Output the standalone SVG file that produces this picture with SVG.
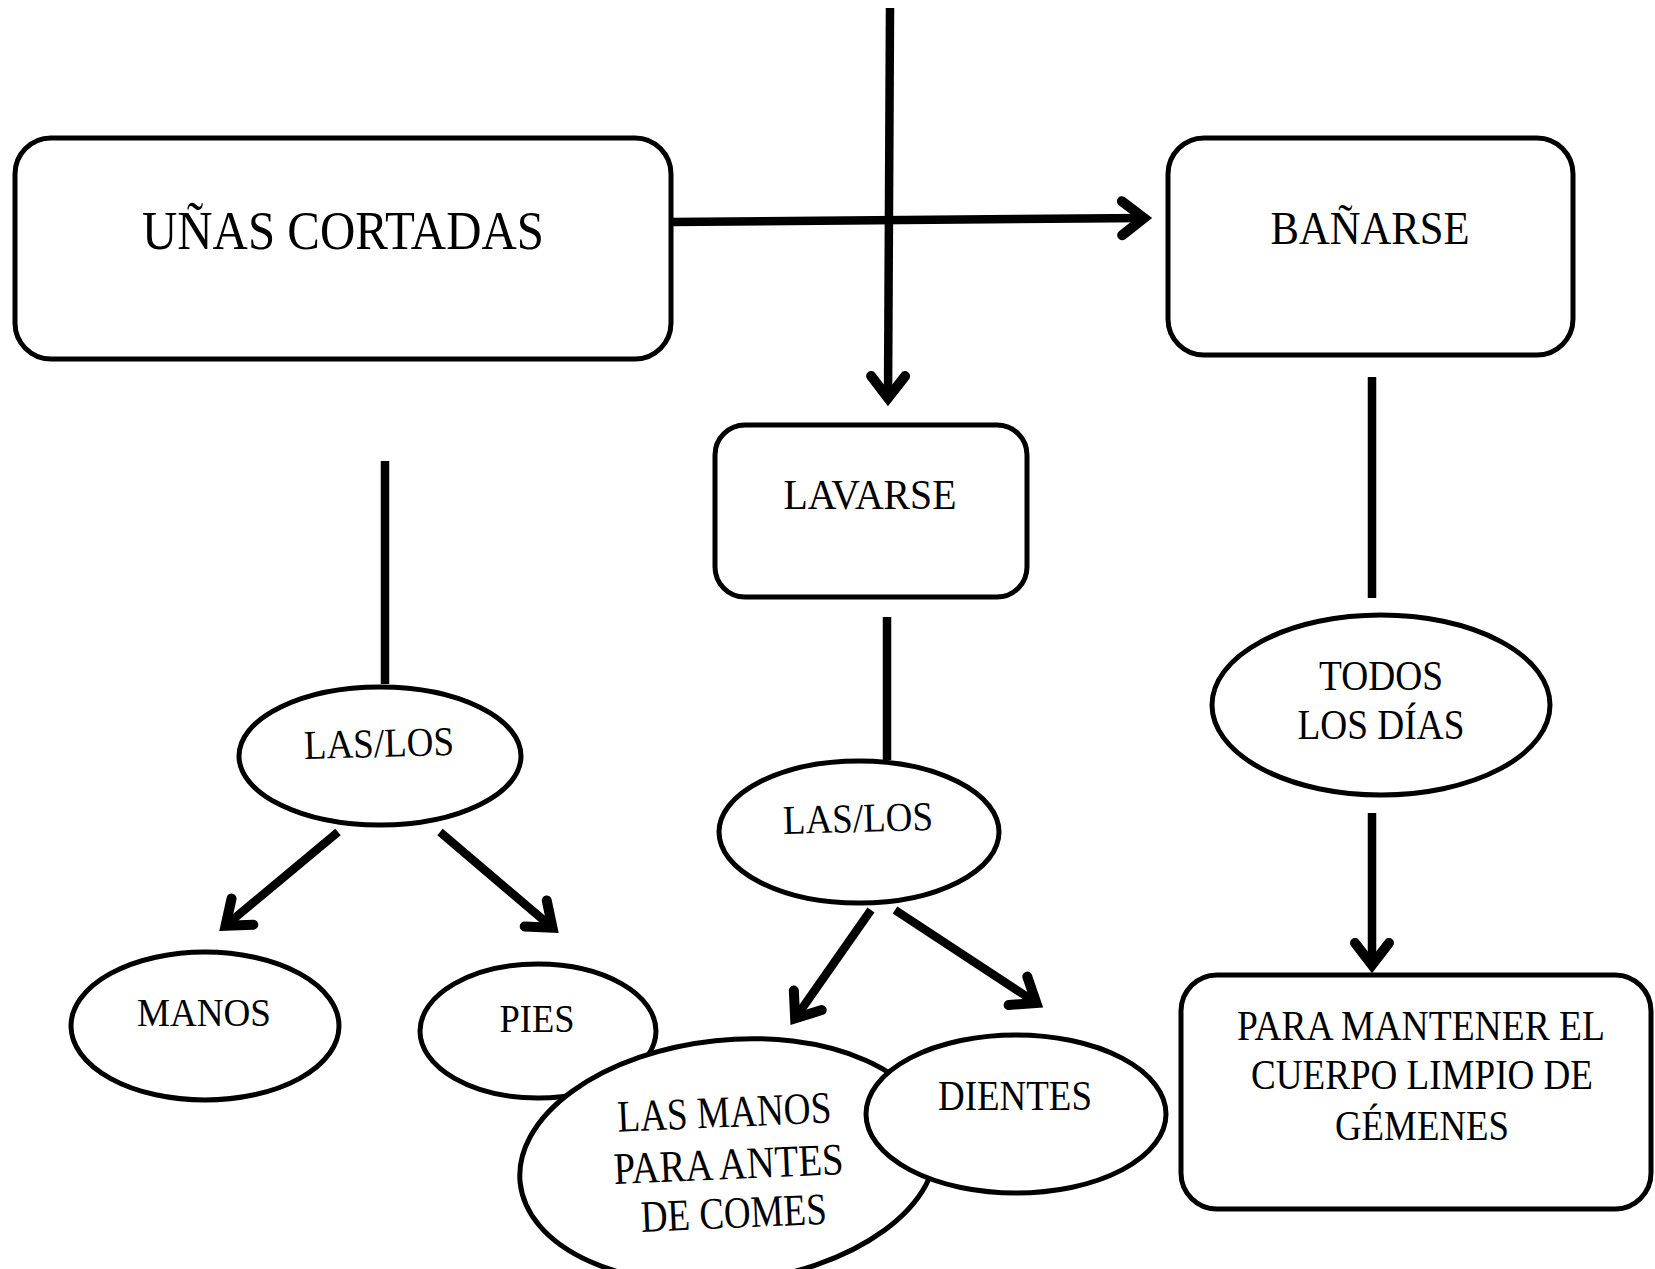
<svg xmlns="http://www.w3.org/2000/svg" width="1655" height="1269" viewBox="0 0 1655 1269">
<style>
.box{fill:#fff;stroke:#000;stroke-width:5}
.ell{fill:#fff;stroke:#000;stroke-width:5}
.ln{fill:none;stroke:#000;stroke-width:8.5}
.t{font-family:"Liberation Serif","Times New Roman",serif;fill:#000;text-anchor:middle}
</style>
<defs>
<marker id="arr" markerUnits="userSpaceOnUse" markerWidth="60" markerHeight="60" viewBox="-40 -30 60 60" refX="0" refY="0" orient="auto" overflow="visible">
<path d="M -24 -17 L -2 0 L -24 17" fill="none" stroke="#000" stroke-width="10" stroke-linecap="round" stroke-linejoin="miter"/>
</marker>
</defs>
<rect width="1655" height="1269" fill="#fff"/>
<g id="connectors">
<line class="ln" x1="890" y1="8" x2="888" y2="400" marker-end="url(#arr)"/>
<line class="ln" x1="671" y1="222" x2="1146" y2="218" marker-end="url(#arr)"/>
<line class="ln" x1="385" y1="461" x2="385" y2="684"/>
<line class="ln" x1="338" y1="832" x2="224" y2="927" marker-end="url(#arr)"/>
<line class="ln" x1="440" y1="832" x2="554" y2="929" marker-end="url(#arr)"/>
<line class="ln" x1="887" y1="617" x2="887" y2="760"/>
<line class="ln" x1="871" y1="910" x2="794" y2="1020" marker-end="url(#arr)"/>
<line class="ln" x1="895" y1="910" x2="1038" y2="1004" marker-end="url(#arr)"/>
<line class="ln" x1="1372" y1="377" x2="1372" y2="598"/>
<line class="ln" x1="1372" y1="813" x2="1372" y2="967" marker-end="url(#arr)"/>
</g>
<g id="n-unas">
<rect class="box" x="15" y="138" width="656" height="221" rx="36"/>
<text class="t" x="343" y="249" font-size="55" textLength="402" lengthAdjust="spacingAndGlyphs">UÑAS CORTADAS</text>
</g>
<g id="n-banarse">
<rect class="box" x="1168" y="138" width="405" height="217" rx="36"/>
<text class="t" x="1370" y="244" font-size="47" textLength="199" lengthAdjust="spacingAndGlyphs">BAÑARSE</text>
</g>
<g id="n-lavarse">
<rect class="box" x="715" y="425" width="312" height="172" rx="30"/>
<text class="t" x="870" y="509" font-size="42" textLength="173" lengthAdjust="spacingAndGlyphs">LAVARSE</text>
</g>
<g id="n-laslos1">
<ellipse class="ell" cx="380" cy="756" rx="141" ry="69"/>
<text class="t" x="379" y="757" font-size="41" textLength="150" lengthAdjust="spacingAndGlyphs" transform="rotate(-1.5 379 745)">LAS/LOS</text>
</g>
<g id="n-manos">
<ellipse class="ell" cx="205" cy="1026" rx="134" ry="74"/>
<text class="t" x="204" y="1026" font-size="41" textLength="134" lengthAdjust="spacingAndGlyphs">MANOS</text>
</g>
<g id="n-pies">
<ellipse class="ell" cx="538" cy="1031" rx="118" ry="67"/>
<text class="t" x="537" y="1032" font-size="41" textLength="75" lengthAdjust="spacingAndGlyphs">PIES</text>
</g>
<g id="n-laslos2">
<ellipse class="ell" cx="859" cy="832" rx="140" ry="71"/>
<text class="t" x="858" y="832" font-size="41" textLength="150" lengthAdjust="spacingAndGlyphs" transform="rotate(-1.5 858 820)">LAS/LOS</text>
</g>
<g id="n-lasmanos">
<ellipse class="ell" cx="728" cy="1161" rx="209" ry="121" transform="rotate(-6 728 1161)"/>
<g transform="rotate(-2.5 729 1175)">
<text class="t" x="727" y="1127" font-size="45" textLength="214" lengthAdjust="spacingAndGlyphs">LAS MANOS</text>
<text class="t" x="729" y="1179" font-size="45" textLength="230" lengthAdjust="spacingAndGlyphs">PARA ANTES</text>
<text class="t" x="732" y="1228" font-size="45" textLength="186" lengthAdjust="spacingAndGlyphs">DE COMES</text>
</g>
</g>
<g id="n-dientes">
<ellipse class="ell" cx="1016" cy="1114" rx="150" ry="79"/>
<text class="t" x="1015" y="1110" font-size="43" textLength="154" lengthAdjust="spacingAndGlyphs">DIENTES</text>
</g>
<g id="n-todos">
<ellipse class="ell" cx="1381" cy="705" rx="169" ry="90"/>
<text class="t" x="1381" y="690" font-size="43" textLength="124" lengthAdjust="spacingAndGlyphs">TODOS</text>
<text class="t" x="1381" y="739" font-size="43" textLength="167" lengthAdjust="spacingAndGlyphs">LOS DÍAS</text>
</g>
<g id="n-para">
<rect class="box" x="1181" y="975" width="470" height="234" rx="36"/>
<text class="t" x="1421" y="1040" font-size="43" textLength="368" lengthAdjust="spacingAndGlyphs">PARA MANTENER EL</text>
<text class="t" x="1422" y="1089" font-size="43" textLength="342" lengthAdjust="spacingAndGlyphs">CUERPO LIMPIO DE</text>
<text class="t" x="1422" y="1140" font-size="43" textLength="174" lengthAdjust="spacingAndGlyphs">GÉMENES</text>
</g>
</svg>
